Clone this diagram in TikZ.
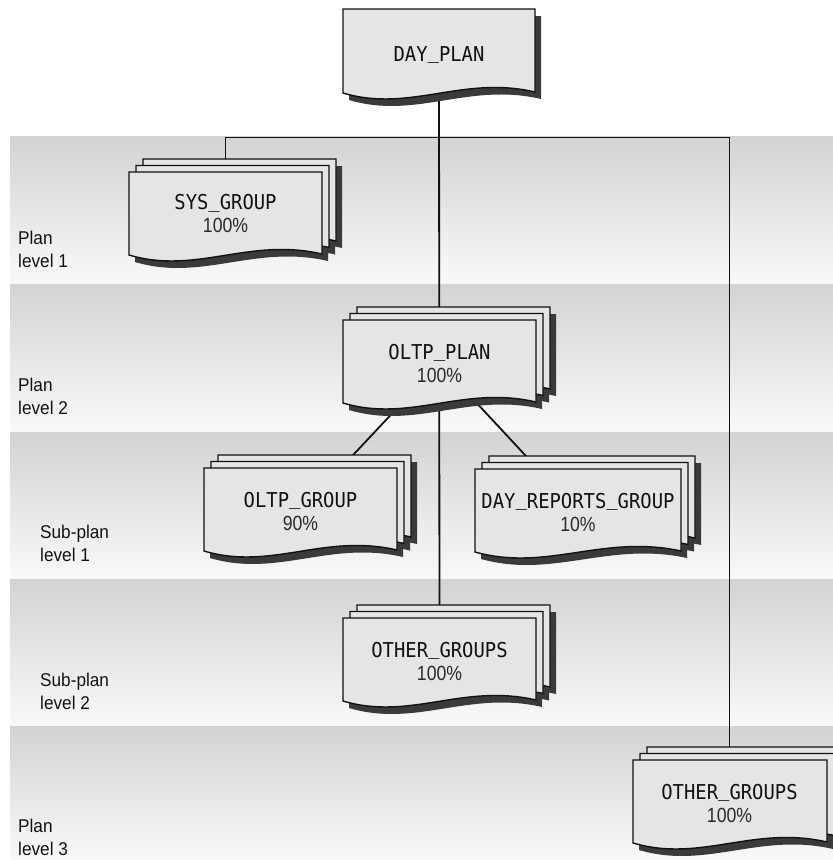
\documentclass[tikz,border=0pt]{standalone}
\usepackage{fontspec}
\newfontfamily\boxmono[FakeStretch=0.92]{DejaVu Sans Mono}
\newfontfamily\pctfont[FakeStretch=0.86]{Liberation Sans}
\newfontfamily\lblfont[FakeStretch=0.93]{Liberation Sans}
\definecolor{bandtop}{HTML}{D2D3D5}
\definecolor{bandbot}{HTML}{F9F9F9}
\definecolor{sheetfill}{HTML}{E5E5E5}
\definecolor{shadowc}{HTML}{3A3A3A}
\definecolor{inkc}{HTML}{111111}
\definecolor{pctc}{HTML}{2A2A2A}
\newcommand\us{\raisebox{2.5pt}{\_}}
\tikzset{
  band/.style={top color=bandtop,bottom color=bandbot,draw=none},
  shadowsty/.style={fill=shadowc,draw=none},
  sheetsty/.style={fill=sheetfill,draw=inkc,line width=1.4pt,line join=miter},
  conn/.style={draw=inkc,line width=1.8pt},
  boxtext/.style={align=center,inner sep=0pt,font=\fontsize{20.5}{23}\selectfont,text=inkc},
  lbl/.style={align=left,inner sep=0pt,anchor=base west,font=\lblfont\fontsize{18.5}{23}\selectfont,text=inkc}
}
\newcommand\sheet[5]{\path[#1] ({#2},{#3}) -- ({#2+#4},{#3}) -- ({#2+#4},{#3+#5-1}) .. controls ({#2+0.62*#4},{#3+#5-18}) and ({#2+0.35*#4},{#3+#5+20}) .. ({#2},{#3+#5}) -- cycle;}
\newcommand\multidoc[4]{%
  \sheet{shadowsty}{#1+20}{#2-6}{#3}{#4}%
  \sheet{shadowsty}{#1+13}{#2+0.5}{#3}{#4}%
  \sheet{shadowsty}{#1+6}{#2+7}{#3}{#4}%
  \sheet{sheetsty}{#1+14}{#2-13}{#3}{#4}%
  \sheet{sheetsty}{#1+7}{#2-6.5}{#3}{#4}%
  \sheet{sheetsty}{#1}{#2}{#3}{#4}}
\begin{document}
\begin{tikzpicture}[x=1pt,y=-1pt]
\useasboundingbox (0,0) rectangle (833,860);
% bands
\shade[band] (10,136) rectangle (833,284);
\shade[band] (10,284) rectangle (833,432);
\shade[band] (10,432) rectangle (833,579);
\shade[band] (10,579) rectangle (833,726);
\shade[band] (10,726) rectangle (833,860);
% level labels (anchor = baseline of last line)
\node[lbl] (l1) at (18,267) {Plan\\level 1};
\node[lbl] (l2) at (18,414) {Plan\\level 2};
\node[lbl] (l3) at (40,561) {Sub-plan\\level 1};
\node[lbl] (l4) at (40,709) {Sub-plan\\level 2};
\node[lbl] (l5) at (18,855) {Plan\\level 3};
% anchor coordinates (box centres)
\coordinate (c-day) at (439,55);
\coordinate (c-sys) at (225.5,213.5);
\coordinate (c-oltp) at (439.5,363);
\coordinate (c-oltpg) at (300.5,511);
\coordinate (c-rep) at (578,512);
\coordinate (c-oth1) at (439.5,661);
\coordinate (c-oth2) at (729.5,803);
\coordinate (bar) at (439,137.5);
% connectors
\draw[conn] (c-day) -- (c-oth1);
\draw[conn] (c-sys) -- (c-sys |- bar) -| (c-oth2);
\draw[conn] (c-oltp) -- (c-oltpg);
\draw[conn] (c-oltp) -- (c-rep);
% boxes
\sheet{shadowsty}{349}{16}{192}{84}
\sheet{sheetsty}{343}{9}{192}{84}
\multidoc{129}{172}{193}{83}
\multidoc{343}{320}{193}{83}
\multidoc{204}{468}{193}{83}
\multidoc{475}{469}{206}{83}
\multidoc{343}{618}{193}{83}
\multidoc{633}{760}{194}{83}
% texts
\node[boxtext] (t-day) at (c-day) {\boxmono DAY\us PLAN};
\node[boxtext] (t-sys) at (c-sys) {{\boxmono SYS\us GROUP}\\{\pctfont\color{pctc}100\%}};
\node[boxtext] (t-oltp) at (c-oltp) {{\boxmono OLTP\us PLAN}\\{\pctfont\color{pctc}100\%}};
\node[boxtext] (t-oltpg) at (c-oltpg) {{\boxmono OLTP\us GROUP}\\{\pctfont\color{pctc}90\%}};
\node[boxtext] (t-rep) at (c-rep) {{\boxmono DAY\us REPORTS\us GROUP}\\{\pctfont\color{pctc}10\%}};
\node[boxtext] (t-oth1) at (c-oth1) {{\boxmono OTHER\us GROUPS}\\{\pctfont\color{pctc}100\%}};
\node[boxtext] (t-oth2) at (c-oth2) {{\boxmono OTHER\us GROUPS}\\{\pctfont\color{pctc}100\%}};
\end{tikzpicture}
\end{document}
